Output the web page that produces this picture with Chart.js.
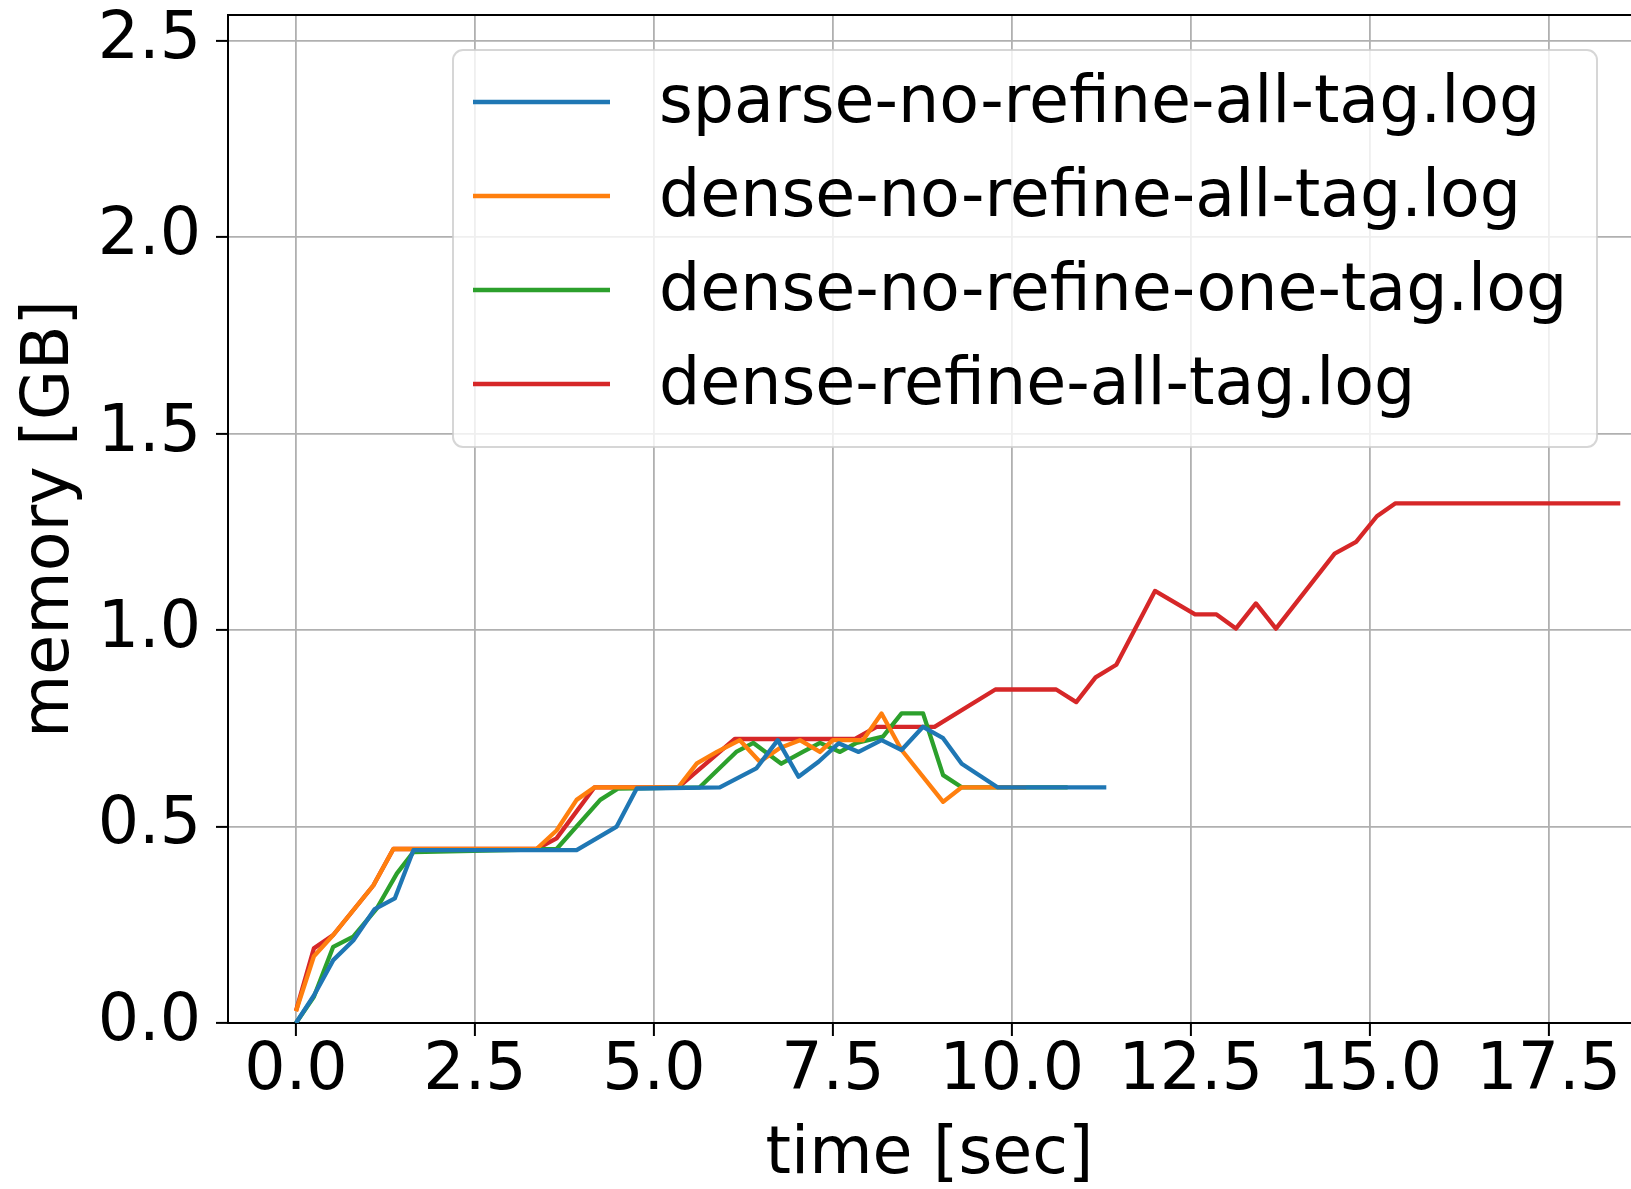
<!DOCTYPE html>
<html>
<head>
<meta charset="utf-8">
<script src="https://cdn.jsdelivr.net/npm/chart.js@4.4.1/dist/chart.umd.min.js"></script>
<style>
  html, body { margin: 0; padding: 0; background: #fff; }
  #wrap { width: 1631px; height: 1189px; }
</style>
</head>
<body>
<div id="wrap"><canvas id="memChart" width="1631" height="1189"></canvas></div>
<script>
// series values (time [sec], memory [GB])
const sparseAllTime = [0, 0.25, 0.52, 0.8, 1.1, 1.38, 1.64, 3.92, 4.2, 4.48, 4.76, 5.92, 6.43, 6.73, 7.02, 7.3, 7.58, 7.86, 8.18, 8.46, 8.76, 9.04, 9.3, 9.55, 9.8, 11.32];
const sparseAllMem  = [0, 0.07, 0.16, 0.21, 0.29, 0.317, 0.44, 0.44, 0.47, 0.50, 0.597, 0.6, 0.648, 0.72, 0.627, 0.665, 0.712, 0.69, 0.72, 0.695, 0.754, 0.725, 0.66, 0.63, 0.6, 0.6];

const denseAllTime = [0, 0.25, 0.52, 1.08, 1.36, 3.36, 3.64, 3.92, 4.17, 5.34, 5.6, 5.88, 6.2, 6.48, 6.76, 7.04, 7.32, 7.5, 7.92, 8.18, 8.46, 9.04, 9.3, 10.2];
const denseAllMem  = [0.03, 0.17, 0.224, 0.35, 0.443, 0.443, 0.49, 0.568, 0.6, 0.6, 0.661, 0.69, 0.72, 0.665, 0.70, 0.72, 0.69, 0.72, 0.72, 0.788, 0.695, 0.563, 0.6, 0.6];

const denseOneTime = [0, 0.25, 0.52, 0.8, 1.13, 1.41, 1.64, 3.64, 4.25, 4.5, 5.64, 6.15, 6.39, 6.78, 7.08, 7.32, 7.6, 7.83, 8.2, 8.46, 8.76, 9.04, 9.3, 10.78];
const denseOneMem  = [0, 0.067, 0.194, 0.22, 0.292, 0.381, 0.435, 0.443, 0.568, 0.597, 0.6, 0.69, 0.713, 0.66, 0.69, 0.713, 0.69, 0.713, 0.729, 0.788, 0.788, 0.631, 0.6, 0.6];

const refineAllTime = [0, 0.25, 0.52, 1.08, 1.36, 3.36, 3.64, 4.17, 5.34, 6.13, 7.81, 8.11, 8.92, 9.77, 10.62, 10.9, 11.17, 11.46, 12.0, 12.56, 12.86, 13.13, 13.41, 13.69, 14.51, 14.81, 15.1, 15.36, 18.5];
const refineAllMem  = [0.031, 0.19, 0.224, 0.35, 0.443, 0.443, 0.47, 0.6, 0.6, 0.723, 0.723, 0.754, 0.754, 0.849, 0.849, 0.817, 0.88, 0.912, 1.10, 1.04, 1.04, 1.004, 1.068, 1.004, 1.195, 1.225, 1.29, 1.323, 1.323];

const seriesNames = ['sparse-no-refine-all-tag.log', 'dense-no-refine-all-tag.log', 'dense-no-refine-one-tag.log', 'dense-refine-all-tag.log'];
const seriesColors = ['#1f77b4', '#ff7f0e', '#2ca02c', '#d62728'];

const xTicks = [0, 2.5, 5, 7.5, 10, 12.5, 15, 17.5];
const yTicks = [0, 0.5, 1.0, 1.5, 2.0, 2.5];

const FONT = 'DejaVu Sans';
const FSIZE = 65;
const LINE_W = 4.3;

function toPoints(times, mems) {
    return times.map((t, i) => ({ x: t, y: mems[i] }));
}

const allSeries = [
    toPoints(sparseAllTime, sparseAllMem),
    toPoints(denseAllTime, denseAllMem),
    toPoints(denseOneTime, denseOneMem),
    toPoints(refineAllTime, refineAllMem)
];

// matplotlib-like legend box and top spine
const mplFrame = {
    id: 'mplFrame',
    afterDraw(chart) {
        const ctx = chart.ctx;
        const area = chart.chartArea;

        ctx.save();
        ctx.strokeStyle = '#000';
        ctx.lineWidth = 2;
        ctx.beginPath();
        ctx.moveTo(area.left, area.top);
        ctx.lineTo(area.right, area.top);
        ctx.stroke();

        const bx = area.left + 225, by = area.top + 35, bw = 1144, bh = 397;
        ctx.beginPath();
        ctx.roundRect(bx, by, bw, bh, 10);
        ctx.fillStyle = 'rgba(255,255,255,0.8)';
        ctx.fill();
        ctx.strokeStyle = 'rgba(204,204,204,0.8)';
        ctx.lineWidth = 2;
        ctx.stroke();

        ctx.font = FSIZE + 'px "' + FONT + '"';
        ctx.textBaseline = 'middle';
        ctx.textAlign = 'left';
        chart.data.datasets.forEach((ds, i) => {
            const rowY = by + 52 + i * 94;
            ctx.strokeStyle = ds.borderColor;
            ctx.lineWidth = LINE_W;
            ctx.beginPath();
            ctx.moveTo(bx + 20, rowY);
            ctx.lineTo(bx + 157, rowY);
            ctx.stroke();
            ctx.fillStyle = '#000';
            ctx.fillText(ds.label, bx + 206, rowY + 3);
        });
        ctx.restore();
    }
};

const ctx = document.getElementById('memChart').getContext('2d');

new Chart(ctx, {
    type: 'line',
    data: {
        datasets: allSeries.map((pts, i) => ({
            label: seriesNames[i],
            data: pts,
            borderColor: seriesColors[i],
            backgroundColor: seriesColors[i],
            borderWidth: LINE_W,
            borderJoinStyle: 'round',
            pointRadius: 0,
            tension: 0,
            fill: false
        }))
    },
    options: {
        responsive: false,
        animation: false,
        layout: { padding: { top: 15, right: 0, left: 0, bottom: 0 } },
        plugins: {
            legend: { display: false },
            tooltip: { enabled: false }
        },
        scales: {
            x: {
                type: 'linear',
                min: -0.95,
                max: 18.65,
                afterBuildTicks: scale => { scale.ticks = xTicks.map(v => ({ value: v })); },
                afterFit: scale => {
                    scale.height = 166;
                    scale.paddingLeft = 0;
                    scale.paddingRight = 0;
                },
                ticks: {
                    color: '#000',
                    padding: 4,
                    maxRotation: 0,
                    font: { family: FONT, size: FSIZE, lineHeight: 1 },
                    callback: v => v.toFixed(1)
                },
                grid: {
                    color: '#b0b0b0',
                    lineWidth: 1.8,
                    tickLength: 13,
                    tickColor: '#000',
                    tickWidth: 2
                },
                border: { color: '#000', width: 2 },
                title: {
                    display: true,
                    text: 'time [sec]',
                    color: '#000',
                    padding: 0,
                    font: { family: FONT, size: FSIZE, lineHeight: 1 }
                }
            },
            y: {
                min: 0,
                max: 2.566,
                afterBuildTicks: scale => { scale.ticks = yTicks.map(v => ({ value: v })); },
                afterFit: scale => {
                    scale.width = 228;
                    scale.paddingTop = 0;
                    scale.paddingBottom = 0;
                },
                ticks: {
                    color: '#000',
                    padding: 15,
                    font: { family: FONT, size: FSIZE, lineHeight: 1 },
                    callback: v => v.toFixed(1)
                },
                grid: {
                    color: '#b0b0b0',
                    lineWidth: 1.8,
                    tickLength: 12,
                    tickColor: '#000',
                    tickWidth: 2
                },
                border: { color: '#000', width: 2 },
                title: {
                    display: true,
                    text: 'memory [GB]',
                    color: '#000',
                    padding: { top: 19, bottom: 0 },
                    font: { family: FONT, size: FSIZE, lineHeight: 1 }
                }
            }
        }
    },
    plugins: [mplFrame]
});
</script>
</body>
</html>
